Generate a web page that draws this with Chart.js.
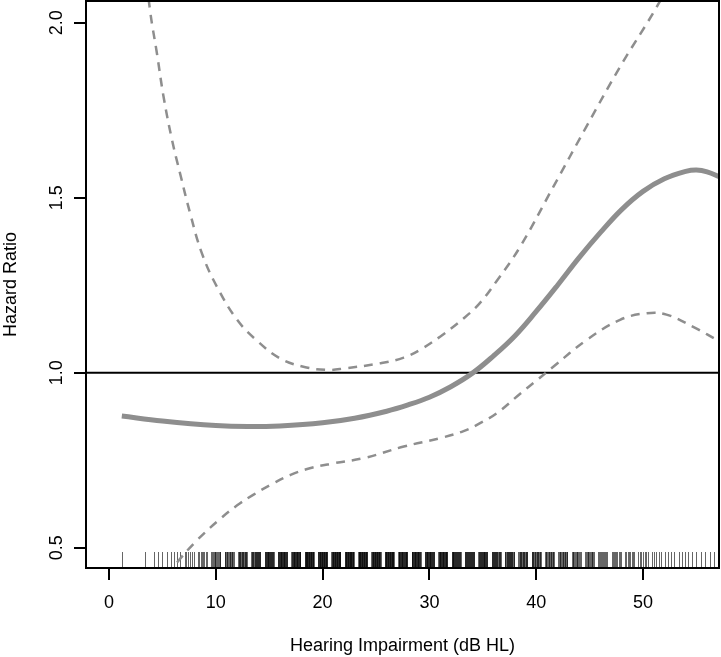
<!DOCTYPE html>
<html>
<head>
<meta charset="utf-8">
<script src="https://cdn.jsdelivr.net/npm/chart.js@4.4.1/dist/chart.umd.min.js"></script>
<style>
  html, body { margin: 0; padding: 0; background: #fff; }
  #wrap { width: 721px; height: 657px; }
</style>
</head>
<body>
<div id="wrap"><canvas id="hrChart" width="721" height="657"></canvas></div>
<script>
// --- Data ---
const fitX  = [1.2, 5, 10, 13, 16, 20, 23, 26, 28, 30, 32, 34, 36, 38, 40, 42, 44, 46, 48, 50, 52, 54, 55, 56, 57.3];
const fitHR = [0.876, 0.862, 0.849, 0.846, 0.848, 0.857, 0.870, 0.890, 0.908, 0.930, 0.960, 0.998, 1.048, 1.105, 1.175, 1.250, 1.328, 1.400, 1.466, 1.518, 1.554, 1.575, 1.579, 1.574, 1.558];

const upperX  = [1.2, 2.5, 3.84, 4.5, 5.1, 5.9, 6.65, 7.6, 8.7, 10.1, 12, 13.8, 16, 18.2, 20.4, 22, 25.4, 27.6, 29.1, 31, 33.2, 34.7, 36.3, 38.5, 41.6, 44.7, 47.85, 51.3, 54, 57.3];
const upperHR = [2.75, 2.38, 2.036, 1.91, 1.79, 1.665, 1.57, 1.455, 1.341, 1.246, 1.151, 1.093, 1.041, 1.017, 1.008, 1.012, 1.027, 1.043, 1.065, 1.103, 1.155, 1.198, 1.262, 1.36, 1.531, 1.703, 1.874, 2.046, 2.2, 2.38];

const lowerX  = [5.5, 6.3, 8.2, 10.4, 12, 13.5, 15.4, 17, 18.8, 21, 24, 27.6, 31, 33.2, 34.7, 36.3, 38.5, 40, 41.6, 44.7, 47.85, 50.35, 52.2, 54.7, 57.3];
const lowerHR = [0.42, 0.455, 0.52, 0.582, 0.621, 0.651, 0.684, 0.708, 0.727, 0.741, 0.757, 0.789, 0.813, 0.833, 0.855, 0.884, 0.94, 0.977, 1.017, 1.093, 1.151, 1.17, 1.166, 1.131, 1.087];

// rug: observed hearing levels (clusters) and how many subjects sit in each
const rugX     = [1.25, 3.75, 5, 6.25, 7.5, 8.75, 10, 11.25, 12.5, 13.75, 15, 16.25, 17.5, 18.75, 20, 21.25, 22.5, 23.75, 25, 26.25, 27.5, 28.75, 30, 31.25, 32.5, 33.75, 35, 36.25, 37.5, 38.75, 40, 41.25, 42.5, 43.75, 45, 46.25, 47.5, 48.75, 50, 51.25, 52.5, 53.75, 55, 56.25];
const rugCount = [1, 2, 3, 4, 6, 8, 12, 14, 16, 18, 20, 22, 22, 24, 24, 24, 24, 24, 24, 24, 22, 22, 22, 22, 20, 20, 20, 18, 18, 16, 16, 14, 14, 12, 12, 10, 9, 8, 7, 5, 4, 4, 3, 3];

const xTicks = [0, 10, 20, 30, 40, 50];
const yTicks = [0.5, 1.0, 1.5, 2.0];
const refLine = 1.0;

const GREY = "#8e8e8e";
const FONT = "'Liberation Sans', Arial, sans-serif";

const toPoints = (xs, ys) => xs.map((x, i) => ({ x, y: ys[i] }));

// --- Rug, reference line, box, rotated y labels ---
const decor = {
  id: "decor",
  beforeDatasetsDraw(chart) {
    const { ctx, chartArea: a, scales: { x, y } } = chart;
    ctx.save();
    ctx.lineWidth = 1;
    ctx.strokeStyle = "rgba(0,0,0,0.6)";
    rugX.forEach((v, i) => {
      const n = rugCount[i];
      for (let k = 0; k < n; k++) {
        const off = n === 1 ? 0 : (k / (n - 1) - 0.5) * 0.85;
        const px = Math.round(x.getPixelForValue(v + off)) + 0.5;
        if (px < a.left || px > a.right) continue;
        ctx.beginPath();
        ctx.moveTo(px, a.bottom - 16);
        ctx.lineTo(px, a.bottom);
        ctx.stroke();
      }
    });
    // HR = 1 line
    const py = y.getPixelForValue(refLine);
    ctx.strokeStyle = "#000";
    ctx.lineWidth = 2;
    ctx.beginPath();
    ctx.moveTo(a.left, py);
    ctx.lineTo(a.right, py);
    ctx.stroke();
    ctx.restore();
  },
  afterDraw(chart) {
    const { ctx, chartArea: a, scales: { y } } = chart;
    ctx.save();
    ctx.strokeStyle = "#000";
    ctx.lineWidth = 2;
    ctx.strokeRect(a.left, a.top, a.right - a.left, a.bottom - a.top);
    ctx.fillStyle = "#000";
    ctx.font = "18px " + FONT;
    ctx.textAlign = "center";
    ctx.textBaseline = "alphabetic";
    yTicks.forEach(v => {
      ctx.save();
      ctx.translate(a.left - 24, y.getPixelForValue(v));
      ctx.rotate(-Math.PI / 2);
      ctx.fillText(v.toFixed(1), 0, 0);
      ctx.restore();
    });
    ctx.restore();
  }
};

new Chart(document.getElementById("hrChart"), {
  type: "line",
  data: {
    datasets: [
      { label: "HR", data: toPoints(fitX, fitHR), borderColor: GREY, borderWidth: 5, clip: 0 },
      { label: "upper", data: toPoints(upperX, upperHR), borderColor: GREY, borderWidth: 2.5, borderDash: [9, 7], clip: 0 },
      { label: "lower", data: toPoints(lowerX, lowerHR), borderColor: GREY, borderWidth: 2.5, borderDash: [9, 7], clip: 0 }
    ]
  },
  options: {
    responsive: false,
    animation: false,
    devicePixelRatio: 1,
    layout: { padding: { top: 1, right: 2, left: 0, bottom: 0 } },
    elements: {
      point: { radius: 0 },
      line: { tension: 0.4, fill: false }
    },
    plugins: { legend: { display: false }, tooltip: { enabled: false } },
    scales: {
      x: {
        type: "linear",
        min: -2.154,
        max: 57.116,
        afterBuildTicks: s => { s.ticks = xTicks.map(v => ({ value: v })); },
        afterFit: s => { s.height = 89; },
        ticks: { color: "#000", font: { family: FONT, size: 18 }, padding: 12, maxRotation: 0, autoSkip: false },
        grid: { drawOnChartArea: false, drawTicks: true, tickLength: 12, color: "#000", lineWidth: 2 },
        border: { color: "#000", width: 2 },
        title: { display: true, text: "Hearing Impairment (dB HL)", color: "#000", font: { family: FONT, size: 18 }, padding: 0 }
      },
      y: {
        type: "linear",
        min: 0.442,
        max: 2.062,
        afterBuildTicks: s => { s.ticks = yTicks.map(v => ({ value: v })); },
        afterFit: s => { s.width = 86; },
        ticks: { display: false },
        grid: { drawOnChartArea: false, drawTicks: true, tickLength: 12, color: "#000", lineWidth: 2 },
        border: { color: "#000", width: 2 },
        title: { display: true, text: "Hazard Ratio", color: "#000", font: { family: FONT, size: 18 }, padding: 0 }
      }
    }
  },
  plugins: [decor]
});
</script>
</body>
</html>
